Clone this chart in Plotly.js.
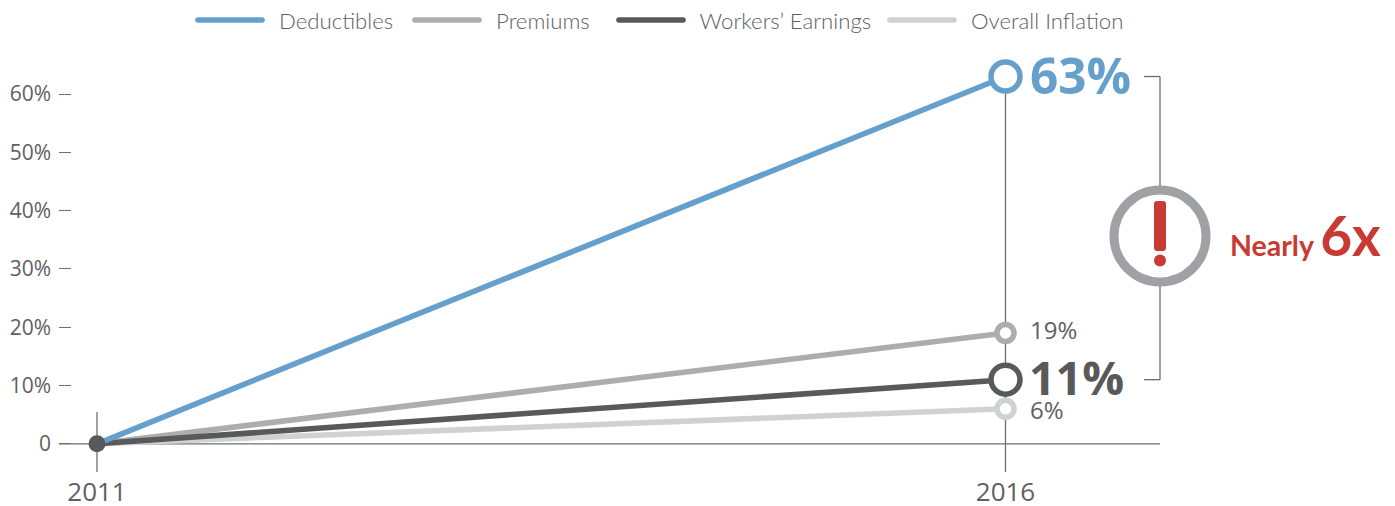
<!DOCTYPE html>
<html>
<head>
<meta charset="utf-8">
<script src="https://cdn.plot.ly/plotly-3.0.1.min.js"></script>
<style>
  html, body { margin: 0; padding: 0; background: #fff; }
  .legendlines path { stroke-linecap: round; }
</style>
</head>
<body>
<div id="chart" style="width:1395px;height:506px"></div>
<script>
// Cumulative growth since 2011, in percent
const years = [2011, 2016];
const deductibles = [0, 63];
const premiums = [0, 19];
const earnings = [0, 11];
const inflation = [0, 6];

const seriesNames = ["Deductibles", "Premiums", "Workers’ Earnings", "Overall Inflation"];
const yTickValues = [0, 10, 20, 30, 40, 50, 60];
const yTickLabels = ["0", "10%", "20%", "30%", "40%", "50%", "60%"];
const xTickLabels = ["2011", "2016"];

const BLUE = "#659fcb", GREY = "#adadad", DARK = "#58595b", LIGHT = "#d0d1d1";
const RULE = "#6d6e70", TEXT = "#5f6062", RED = "#c93a32", RING = "#a0a1a5";
const BODY_FONT = "'Open Sans', sans-serif";
const LEGEND_FONT = "Lato, sans-serif";

// Pixel scale of the plot: the plot area spans 59..1395 across, 50..472 down
const PLOT_TOP = 50;
const ZERO_PX = 443.8;
const Y_PER_PX = 1 / 5.83, X_PER_PX = 5 / 908.5;
const xAxisEnd = 2011 + (1160 - 97) * X_PER_PX;
const xStart = 2011 - (97 - 59) * X_PER_PX;
const xEnd = 2011 + (1395 - 97) * X_PER_PX;
const yBottom = -(472 - ZERO_PX) * Y_PER_PX;
const yTop = (ZERO_PX - PLOT_TOP) * Y_PER_PX;

// One line trace (carrying the legend entry) plus its hollow end marker
function series(name, values, color, endSize, legendId) {
  return [
    { x: years, y: values, name: "\u00a0\u00a0" + name, type: "scatter", mode: "lines",
      cliponaxis: false, hoverinfo: "skip", legend: legendId,
      line: { color: color, width: 5.6 } },
    { x: [years[1]], y: [values[1]], type: "scatter", mode: "markers", showlegend: false,
      cliponaxis: false, hoverinfo: "skip",
      marker: { size: endSize, color: "#fff", line: { color: color, width: 5.5 } } }
  ];
}

const traces = [
  ...series(seriesNames[3], inflation, LIGHT, 17, "legend4"),
  ...series(seriesNames[1], premiums, GREY, 17, "legend2"),
  ...series(seriesNames[2], earnings, DARK, 29, "legend3"),
  ...series(seriesNames[0], deductibles, BLUE, 29, "legend"),
  // Common starting point in 2011
  { x: [years[0]], y: [earnings[0]], type: "scatter", mode: "markers", showlegend: false, cliponaxis: false,
    hoverinfo: "skip", marker: { size: 17, color: DARK } }
];

function legendAt(px) {
  return {
    orientation: "h", xref: "container", yref: "container",
    x: px / 1395, xanchor: "left", y: 1 - 20 / 506, yanchor: "middle",
    itemwidth: 64, itemclick: false, itemdoubleclick: false,
    bgcolor: "rgba(0,0,0,0)", borderwidth: 0,
    font: { family: LEGEND_FONT, size: 22.2, color: TEXT, weight: 300 }
  };
}

function rule(x0, y0, x1, y1) {
  return { type: "line", xref: "x", yref: "y", x0, y0, x1, y1, layer: "below", line: { color: RULE, width: 1.3 } };
}

const bracketLeft = 2011 + (1144 - 97) * X_PER_PX;
const calloutX = xAxisEnd;
const calloutY = (ZERO_PX - 236) * Y_PER_PX;

const shapes = [
  rule(xStart, 0, xAxisEnd, 0),
  rule(years[0], yBottom, years[0], (ZERO_PX - 412) * Y_PER_PX),
  rule(years[1], yBottom, years[1], deductibles[1]),
  // Bracket joining the two highlighted end values
  rule(bracketLeft, deductibles[1], xAxisEnd, deductibles[1]),
  rule(xAxisEnd, deductibles[1], xAxisEnd, earnings[1]),
  rule(bracketLeft, earnings[1], xAxisEnd, earnings[1]),
  // Warning badge on the bracket
  { type: "circle", xref: "x", yref: "y", xsizemode: "pixel", ysizemode: "pixel",
    xanchor: calloutX, yanchor: calloutY, x0: -46, x1: 46, y0: -46, y1: 46,
    fillcolor: "#fff", line: { color: RING, width: 9 }, layer: "above" },
  { type: "path", xref: "x", yref: "y", xsizemode: "pixel", ysizemode: "pixel",
    xanchor: calloutX, yanchor: calloutY,
    path: "M -6 32 Q -6 35 -3 35 L 3 35 Q 6 35 6 32 L 6 -11 Q 6 -15 3 -15 L -3 -15 Q -6 -15 -6 -11 Z",
    fillcolor: RED, line: { width: 0 }, layer: "above" },
  { type: "circle", xref: "x", yref: "y", xsizemode: "pixel", ysizemode: "pixel",
    xanchor: calloutX, yanchor: calloutY, x0: -6, x1: 6, y0: -30.5, y1: -18.5,
    fillcolor: RED, line: { width: 0 }, layer: "above" }
];

function endLabel(value, size, color, weight, xshift, yshift) {
  return {
    x: years[1], y: value, xref: "x", yref: "y", xanchor: "left", yanchor: "middle",
    xshift: xshift, yshift: yshift, showarrow: false, text: value + "%",
    font: { family: BODY_FONT, size: size, color: color, weight: weight }
  };
}

const annotations = [
  endLabel(deductibles[1], 49.5, BLUE, 700, 22, 2),
  endLabel(premiums[1], 24, TEXT, 400, 22, 4),
  endLabel(earnings[1], 46.5, DARK, 700, 21, 3),
  endLabel(inflation[1], 24, TEXT, 400, 22, -1),
  {
    x: xAxisEnd, y: calloutY, xref: "x", yref: "y", xanchor: "left", yanchor: "middle",
    xshift: 68, yshift: 1, showarrow: false,
    text: '<b>Nearly </b><span style="font-size:55px"><b>6x</b></span>',
    font: { family: LEGEND_FONT, size: 28.5, color: RED }
  }
];

const layout = {
  width: 1395, height: 506, showlegend: true,
  paper_bgcolor: "#fff", plot_bgcolor: "#fff",
  margin: { l: 59, r: 0, t: PLOT_TOP, b: 34, pad: 0 },
  hovermode: false,
  xaxis: {
    range: [xStart, xEnd], tickmode: "array", tickvals: years, ticktext: xTickLabels,
    showgrid: false, zeroline: false, showline: false, ticks: "", ticklabelstandoff: 2,
    tickfont: { family: BODY_FONT, size: 26, color: TEXT }, fixedrange: true
  },
  yaxis: {
    range: [yBottom, yTop], tickmode: "array", tickvals: yTickValues, ticktext: yTickLabels,
    showgrid: false, showline: false, zeroline: false,
    ticks: "inside", ticklen: 12, tickwidth: 1.3, tickcolor: RULE, ticklabelstandoff: 7,
    tickfont: { family: BODY_FONT, size: 21, color: TEXT }, fixedrange: true
  },
  legend: legendAt(193),
  legend2: legendAt(410),
  legend3: legendAt(614),
  legend4: legendAt(885),
  shapes: shapes,
  annotations: annotations
};

Plotly.newPlot("chart", traces, layout, { displayModeBar: false });
</script>
</body>
</html>
